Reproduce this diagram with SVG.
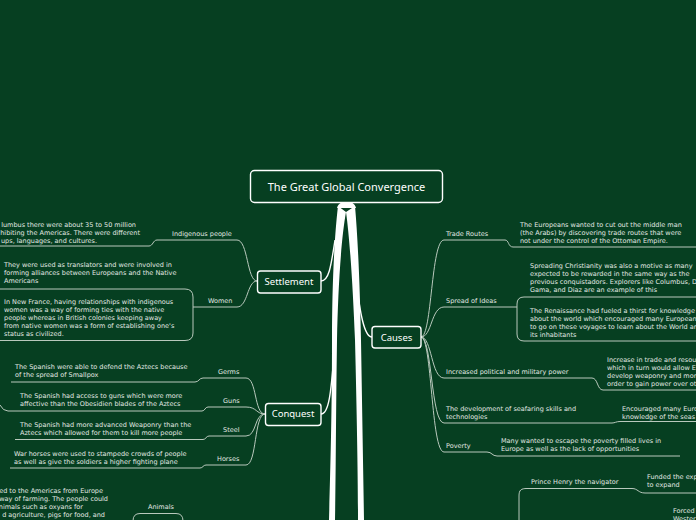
<svg xmlns="http://www.w3.org/2000/svg" width="696" height="520" viewBox="0 0 696 520">
<style>
.t{font-family:"DejaVu Sans",Verdana,sans-serif;font-size:6.5px;fill:#e2e9e3}
.e{text-anchor:end}
.n{font-family:"Noto Sans","Liberation Sans",sans-serif;fill:#ffffff;text-anchor:middle}
.box{fill:#063f21;stroke:#ffffff;stroke-width:1.4}
.c{fill:none;stroke:#b9c9bd;stroke-width:1}
.w{fill:none;stroke:#ffffff;stroke-width:1.4}
.tr{fill:#ffffff}
</style>
<rect width="696" height="520" fill="#063f21"/>
<g id="connectors">
  <path class="tr" d="M338,206 C334,240 332,290 332,340 C332,420 330,480 329,520 L335,520 C336,460 336,400 337,340 C338,290 341,240 346,212 Z"/>
  <path class="tr" d="M346,212 C350,240 353,290 355,340 C357,420 358,480 358,520 L364,520 C363,460 362,400 361,340 C360,290 358,240 355,206 Z"/>
  <path class="tr" d="M337,208 C339,199 354,199 356,208 Z"/>
  <path class="w" d="M321,281 C329,281 331,266 335,240"/>
  <path class="w" d="M321,414 C329,414 331,392 334,355"/>
  <path class="w" d="M372,337 C364,337 360,312 356,280"/>
  <path class="c" d="M257,281 C247,281 248,240 237,240 L157,240 C153,240 153,246 149,246 L-1,246"/>
  <path class="c" d="M257,281 C247,281 248,307 237,307 L193,307"/>
  <path class="c" d="M-1,289 L185,289 Q193,289 193,297 L193,333 Q193,340.5 185,340.5 L-1,340.5"/>
  <path class="c" d="M265,414 C254,414 257,378 246,378 L203,378 C199,378 199,382 195,382 L11,382"/>
  <path class="c" d="M265,414 C256,414 257,407 246,407 L208,407 C205,407 205,411 202,411 L8,411 Q3,411 0,405"/>
  <path class="c" d="M265,414 C254,414 257,436 246,436 L209,436 C206,436 206,439.5 203,439.5 L15,439.5"/>
  <path class="c" d="M265,414 C254,414 257,465 246,465 L206,465 C203,465 203,468 200,468 L10,468"/>
  <path class="c" d="M133,521 Q133,513.5 140,513.5 L176,513.5 Q183,513.5 183,521"/>
  <path class="c" d="M421,337 C432,337 431,240 444,240 L505,240 C509,240 508,247 513,247 L697,247"/>
  <path class="c" d="M421,337 C432,337 431,307 444,307 L517,307"/>
  <path class="c" d="M697,297 L524,297 Q517,297 517,304 L517,334 Q517,341 524,341 L697,341"/>
  <path class="c" d="M421,337 C432,337 431,378 444,378 L592,378 C598,378 597,390 603,390 L697,390"/>
  <path class="c" d="M421,337 C432,337 431,423 444,423 L612,423 C615,423 616,421.5 620,421.5 L697,421.5"/>
  <path class="c" d="M421,337 C432,337 431,452 444,452 L487,452 C492,452 492,456 497,456 L680,456"/>
  <path class="c" d="M519,521 L519,496 C519,490 521,488.5 527,488.5 L632,488.5 C638,488.5 638,493 645,493 L697,493"/>
</g>
<g id="central">
  <rect class="box" x="250.5" y="170.5" width="192" height="32" rx="4"/>
  <text class="n" x="346.5" y="190.5" font-size="11">The Great Global Convergence</text>
</g>
<g id="settlement">
  <rect class="box" x="257.5" y="271" width="63.5" height="22" rx="3"/>
  <text class="n" x="289" y="284.5" font-size="9.5">Settlement</text>
</g>
<g id="conquest">
  <rect class="box" x="265.5" y="403.5" width="55.5" height="22" rx="3"/>
  <text class="n" x="293" y="417" font-size="9.5">Conquest</text>
</g>
<g id="causes">
  <rect class="box" x="372" y="326.5" width="49" height="21.5" rx="3"/>
  <text class="n" x="396.5" y="340.5" font-size="9.5">Causes</text>
</g>
<g id="indigenous-people">
  <text class="t" x="172" y="236.3">Indigenous people</text>
  <text class="t e" x="136" y="227.3">lumbus there were about 35 to 50 million</text>
  <text class="t e" x="140" y="235.3">hibiting the Americas. There were different</text>
  <text class="t e" x="97" y="243.3">ups, languages, and cultures.</text>
</g>
<g id="women">
  <text class="t" x="208" y="303">Women</text>
  <text class="t" x="4" y="267.3">They were used as translators and were involved in</text>
  <text class="t" x="4" y="275.3">forming alliances between Europeans and the Native</text>
  <text class="t" x="4" y="283.3">Americans</text>
  <text class="t" x="4" y="304.3">In New France, having relationships with indigenous</text>
  <text class="t" x="4" y="312.3">women was a way of forming ties with the native</text>
  <text class="t" x="4" y="320.3">people whereas in British colonies keeping away</text>
  <text class="t" x="4" y="328.3">from native women was a form of establishing one's</text>
  <text class="t" x="4" y="336.3">status as civilized.</text>
</g>
<g id="germs">
  <text class="t" x="218" y="374.3">Germs</text>
  <text class="t" x="15" y="369">The Spanish were able to defend the Aztecs because</text>
  <text class="t" x="15" y="377">of the spread of Smallpox</text>
</g>
<g id="guns">
  <text class="t" x="223" y="403">Guns</text>
  <text class="t" x="20" y="398">The Spanish had access to guns which were more</text>
  <text class="t" x="20" y="406">affective than the Obesidien blades of the Aztecs</text>
</g>
<g id="steel">
  <text class="t" x="223" y="432.3">Steel</text>
  <text class="t" x="20" y="427.3">The Spanish had more advanced Weaponry than the</text>
  <text class="t" x="20" y="435.3">Aztecs which allowed for them to kill more people</text>
</g>
<g id="horses">
  <text class="t" x="217" y="461.3">Horses</text>
  <text class="t" x="14" y="456.3">War horses were used to stampede crowds of people</text>
  <text class="t" x="14" y="464.3">as well as give the soldiers a higher fighting plane</text>
</g>
<g id="animals">
  <text class="t" x="148" y="509">Animals</text>
  <text class="t e" x="103" y="493">ed to the Americas from Europe</text>
  <text class="t e" x="108" y="501">way of farming. The people could</text>
  <text class="t e" x="83" y="509">nimals such as oxyans for</text>
  <text class="t e" x="105" y="517">d agriculture, pigs for food, and</text>
</g>
<g id="trade-routes">
  <text class="t" x="446" y="236.3">Trade Routes</text>
  <text class="t" x="520" y="227.3">The Europeans wanted to cut out the middle man</text>
  <text class="t" x="520" y="235.3">(the Arabs) by discovering trade routes that were</text>
  <text class="t" x="520" y="243.3">not under the control of the Ottoman Empire.</text>
</g>
<g id="spread-of-ideas">
  <text class="t" x="446" y="303">Spread of Ideas</text>
  <text class="t" x="530" y="268.3">Spreading Christianity was also a motive as many</text>
  <text class="t" x="530" y="276.3">expected to be rewarded in the same way as the</text>
  <text class="t" x="530" y="284.3">previous conquistadors. Explorers like Columbus, D</text>
  <text class="t" x="530" y="292.3">Gama, and Diaz are an example of this</text>
  <text class="t" x="530" y="313">The Renaissance had fueled a thirst for knowledge</text>
  <text class="t" x="530" y="321">about the world which encouraged many European</text>
  <text class="t" x="530" y="329">to go on these voyages to learn about the World an</text>
  <text class="t" x="530" y="337">its inhabitants</text>
</g>
<g id="political-power">
  <text class="t" x="446" y="374">Increased political and military power</text>
  <text class="t" x="607" y="362.3">Increase in trade and resou</text>
  <text class="t" x="607" y="370.3">which in turn would allow E</text>
  <text class="t" x="607" y="378.3">develop weaponry and mor</text>
  <text class="t" x="607" y="386.3">order to gain power over ot</text>
</g>
<g id="seafaring">
  <text class="t" x="446" y="411.3">The development of seafaring skills and</text>
  <text class="t" x="446" y="419.3">technologies</text>
  <text class="t" x="622" y="411.3">Encouraged many Euro</text>
  <text class="t" x="622" y="419.3">knowledge of the seas</text>
</g>
<g id="poverty">
  <text class="t" x="446" y="448.3">Poverty</text>
  <text class="t" x="501" y="443">Many wanted to escape the poverty filled lives in</text>
  <text class="t" x="501" y="451">Europe as well as the lack of opportunities</text>
</g>
<g id="prince-henry">
  <text class="t" x="531" y="484">Prince Henry the navigator</text>
  <text class="t" x="647" y="479.3">Funded the exp</text>
  <text class="t" x="647" y="487.3">to expand</text>
  <text class="t" x="673" y="513">Forced</text>
  <text class="t" x="673" y="520.5">Wester</text>
</g>
</svg>
